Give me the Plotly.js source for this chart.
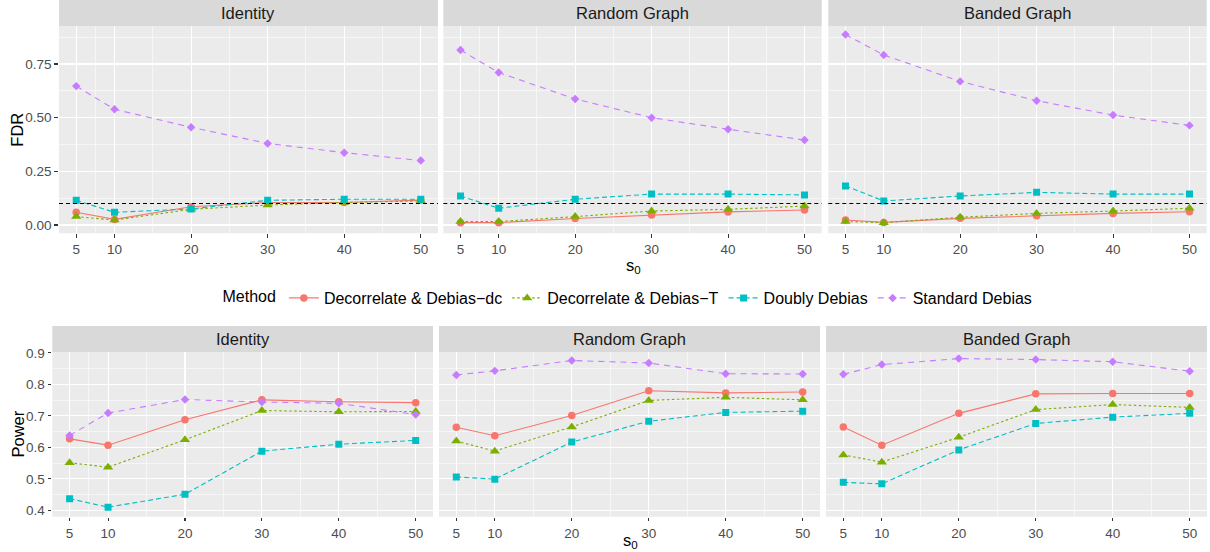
<!DOCTYPE html>
<html>
<head>
<meta charset="utf-8">
<script src="https://cdn.plot.ly/plotly-3.0.1.min.js"></script>
<style>
  html, body { margin: 0; padding: 0; background: #ffffff; }
  #chart { width: 1210px; height: 552px; }
</style>
</head>
<body>
<div id="chart"></div>
<script>
// ---------------- DATA ----------------
const sVals = [5, 10, 20, 30, 40, 50];
const panelNames = ['Identity', 'Random Graph', 'Banded Graph'];
const methodNames = ['Decorrelate & Debias\u2212dc', 'Decorrelate & Debias\u2212T', 'Doubly Debias', 'Standard Debias'];
const fdrLevel = 0.1;

// FDR (top row)
const fdrIdentityDc  = [0.059, 0.026, 0.085, 0.105, 0.105, 0.116];
const fdrIdentityT   = [0.039, 0.023, 0.073, 0.093, 0.105, 0.112];
const fdrIdentityDD  = [0.115, 0.059, 0.075, 0.115, 0.120, 0.120];
const fdrIdentitySD  = [0.647, 0.539, 0.455, 0.380, 0.337, 0.300];

const fdrRandomDc    = [0.011, 0.011, 0.030, 0.047, 0.061, 0.070];
const fdrRandomT     = [0.016, 0.016, 0.039, 0.065, 0.073, 0.088];
const fdrRandomDD    = [0.135, 0.078, 0.120, 0.144, 0.144, 0.140];
const fdrRandomSD    = [0.815, 0.710, 0.587, 0.500, 0.446, 0.396];

const fdrBandedDc    = [0.023, 0.012, 0.031, 0.043, 0.054, 0.062];
const fdrBandedT     = [0.016, 0.011, 0.036, 0.054, 0.065, 0.078];
const fdrBandedDD    = [0.182, 0.112, 0.135, 0.152, 0.144, 0.144];
const fdrBandedSD    = [0.887, 0.792, 0.669, 0.579, 0.512, 0.464];

// Power (bottom row)
const powIdentityDc  = [0.627, 0.607, 0.688, 0.751, 0.745, 0.742];
const powIdentityT   = [0.551, 0.537, 0.624, 0.717, 0.713, 0.714];
const powIdentityDD  = [0.437, 0.410, 0.451, 0.588, 0.610, 0.622];
const powIdentitySD  = [0.638, 0.709, 0.752, 0.744, 0.740, 0.704];

const powRandomDc    = [0.664, 0.637, 0.701, 0.780, 0.773, 0.776];
const powRandomT     = [0.620, 0.588, 0.665, 0.749, 0.759, 0.751];
const powRandomDD    = [0.506, 0.499, 0.617, 0.683, 0.711, 0.715];
const powRandomSD    = [0.830, 0.843, 0.876, 0.868, 0.834, 0.833];

const powBandedDc    = [0.665, 0.607, 0.708, 0.770, 0.771, 0.771];
const powBandedT     = [0.576, 0.553, 0.632, 0.720, 0.736, 0.727];
const powBandedDD    = [0.489, 0.484, 0.592, 0.676, 0.696, 0.708];
const powBandedSD    = [0.832, 0.863, 0.882, 0.879, 0.872, 0.842];

const fdrTickVals = [0, 0.25, 0.5, 0.75];
const fdrTickText = ['0.00', '0.25', '0.50', '0.75'];
const powTickVals = [0.4, 0.5, 0.6, 0.7, 0.8, 0.9];
const powTickText = ['0.4', '0.5', '0.6', '0.7', '0.8', '0.9'];
const sTickText = ['5', '10', '20', '30', '40', '50'];

// ---------------- STYLE ----------------
const FONT = 'Liberation Sans, Arial, Helvetica, sans-serif';
const methodStyle = [
  {color: '#F8766D', dash: 'solid',       symbol: 'circle',      size: 7.5},
  {color: '#7CAE00', dash: '2.5px,2.5px', symbol: 'triangle-up', size: 9},
  {color: '#00BFC4', dash: '5px,3px',     symbol: 'square',      size: 7},
  {color: '#C77CFF', dash: '6px,5px',     symbol: 'diamond',     size: 6.5}
];

const fdrSeries = [
  [fdrIdentityDc, fdrIdentityT, fdrIdentityDD, fdrIdentitySD],
  [fdrRandomDc,   fdrRandomT,   fdrRandomDD,   fdrRandomSD],
  [fdrBandedDc,   fdrBandedT,   fdrBandedDD,   fdrBandedSD]
];
const powSeries = [
  [powIdentityDc, powIdentityT, powIdentityDD, powIdentitySD],
  [powRandomDc,   powRandomT,   powRandomDD,   powRandomSD],
  [powBandedDc,   powBandedT,   powBandedDD,   powBandedSD]
];

const W = 1210, H = 552;
const px = v => v / W;
const py = v => 1 - v / H;

// panel pixel boxes [left, right]
const topX = [[59, 438], [443.3, 821.7], [828.3, 1206.7]];
const botX = [[52.3, 433], [439, 820], [826, 1207]];
const topY = [26, 233.3];   // plot top, bottom (px)
const botY = [352.3, 516.7];
const topStrip = [0, 26];
const botStrip = [326, 352.3];

const traces = [];
const layout = {
  width: W, height: H,
  margin: {l: 0, r: 0, t: 0, b: 0, pad: 0},
  paper_bgcolor: '#ffffff',
  plot_bgcolor: '#EBEBEB',
  font: {family: FONT, color: '#4D4D4D', size: 13.5},
  showlegend: true,
  legend: {
    orientation: 'h',
    x: 629 / W, xanchor: 'center',
    y: py(298), yanchor: 'middle',
    title: {text: 'Method', side: 'left', font: {family: FONT, size: 16, color: '#000000'}},
    font: {family: FONT, size: 16, color: '#000000'},
    itemwidth: 30,
    tracegroupgap: 0,
    bgcolor: 'rgba(0,0,0,0)'
  },
  shapes: [],
  annotations: []
};

function xAxisDef(dom) {
  return {
    domain: dom,
    range: [2.75, 52.25],
    tickmode: 'array', tickvals: sVals, ticktext: sTickText,
    ticks: 'outside', ticklen: 3.7, tickwidth: 1.07, tickcolor: '#333333',
    tickfont: {family: FONT, size: 13.5, color: '#4D4D4D'},
    showgrid: true, gridcolor: '#FFFFFF', gridwidth: 1.07,
    minor: {tickmode: 'array', tickvals: [7.5, 15, 25, 35, 45], showgrid: true, gridcolor: '#FFFFFF', gridwidth: 0.55, ticks: ''},
    zeroline: false, showline: false, fixedrange: true
  };
}
function yAxisDef(dom, range, tv, tt, minorVals, showLabels, anchor) {
  return {
    domain: dom, range: range, anchor: anchor,
    tickmode: 'array', tickvals: tv, ticktext: tt,
    showticklabels: showLabels,
    ticks: showLabels ? 'outside' : '', ticklen: 3.7, tickwidth: 1.07, tickcolor: '#333333',
    tickfont: {family: FONT, size: 13.5, color: '#4D4D4D'},
    showgrid: true, gridcolor: '#FFFFFF', gridwidth: 1.07,
    minor: {tickmode: 'array', tickvals: minorVals, showgrid: true, gridcolor: '#FFFFFF', gridwidth: 0.55, ticks: ''},
    zeroline: false, showline: false, fixedrange: true
  };
}

const fdrRange = [-0.0387, 0.927];
const powRange = [0.3797, 0.902];

for (let p = 0; p < 3; p++) {
  const ti = p + 1, bi = p + 4;
  const tx = ti === 1 ? 'x' : 'x' + ti, ty = ti === 1 ? 'y' : 'y' + ti;
  const bx = 'x' + bi, by = 'y' + bi;
  layout['xaxis' + (ti === 1 ? '' : ti)] = Object.assign(xAxisDef([px(topX[p][0]), px(topX[p][1])]), {anchor: ty});
  layout['yaxis' + (ti === 1 ? '' : ti)] = yAxisDef([py(topY[1]), py(topY[0])], fdrRange, fdrTickVals, fdrTickText,
    [0.125, 0.375, 0.625, 0.875], p === 0, tx);
  layout['xaxis' + bi] = Object.assign(xAxisDef([px(botX[p][0]), px(botX[p][1])]), {anchor: by});
  layout['yaxis' + bi] = yAxisDef([py(botY[1]), py(botY[0])], powRange, powTickVals, powTickText,
    [0.45, 0.55, 0.65, 0.75, 0.85], p === 0, bx);

  // strips
  layout.shapes.push({type: 'rect', xref: 'paper', yref: 'paper', layer: 'below',
    x0: px(topX[p][0]), x1: px(topX[p][1]), y0: py(topStrip[1]), y1: py(topStrip[0]),
    fillcolor: '#D9D9D9', line: {width: 0}});
  layout.shapes.push({type: 'rect', xref: 'paper', yref: 'paper', layer: 'below',
    x0: px(botX[p][0]), x1: px(botX[p][1]), y0: py(botStrip[1]), y1: py(botStrip[0]),
    fillcolor: '#D9D9D9', line: {width: 0}});
  layout.annotations.push({text: panelNames[p], xref: 'paper', yref: 'paper', showarrow: false,
    x: px((topX[p][0] + topX[p][1]) / 2), y: py((topStrip[0] + topStrip[1]) / 2), xanchor: 'center', yanchor: 'middle',
    font: {family: FONT, size: 16.5, color: '#1A1A1A'}});
  layout.annotations.push({text: panelNames[p], xref: 'paper', yref: 'paper', showarrow: false,
    x: px((botX[p][0] + botX[p][1]) / 2), y: py((botStrip[0] + botStrip[1]) / 2), xanchor: 'center', yanchor: 'middle',
    font: {family: FONT, size: 16.5, color: '#1A1A1A'}});

  // FDR reference line
  layout.shapes.push({type: 'line', xref: tx + ' domain', yref: ty, x0: 0, x1: 1, y0: fdrLevel, y1: fdrLevel,
    line: {color: '#000000', width: 1.1, dash: '4px,3px'}});

  for (let m = 0; m < 4; m++) {
    const st = methodStyle[m];
    traces.push({
      type: 'scatter', mode: 'lines+markers', x: sVals, y: fdrSeries[p][m],
      xaxis: tx, yaxis: ty, name: methodNames[m], legendgroup: methodNames[m],
      showlegend: p === 0,
      line: {color: st.color, width: 1.1, dash: st.dash},
      marker: {color: st.color, symbol: st.symbol, size: st.size, line: {width: 0}},
      hoverinfo: 'skip'
    });
    traces.push({
      type: 'scatter', mode: 'lines+markers', x: sVals, y: powSeries[p][m],
      xaxis: bx, yaxis: by, name: methodNames[m], legendgroup: methodNames[m],
      showlegend: false,
      line: {color: st.color, width: 1.1, dash: st.dash},
      marker: {color: st.color, symbol: st.symbol, size: st.size, line: {width: 0}},
      hoverinfo: 'skip'
    });
  }
}

// axis titles
layout.annotations.push({text: 'FDR', xref: 'paper', yref: 'paper', showarrow: false, textangle: -90,
  x: px(17), y: py((topY[0] + topY[1]) / 2), xanchor: 'center', yanchor: 'middle',
  font: {family: FONT, size: 16.5, color: '#000000'}});
layout.annotations.push({text: 'Power', xref: 'paper', yref: 'paper', showarrow: false, textangle: -90,
  x: px(17), y: py((botY[0] + botY[1]) / 2), xanchor: 'center', yanchor: 'middle',
  font: {family: FONT, size: 16.5, color: '#000000'}});
layout.annotations.push({text: 's<sub>0</sub>', xref: 'paper', yref: 'paper', showarrow: false,
  x: px(633), y: py(266), xanchor: 'center', yanchor: 'middle',
  font: {family: FONT, size: 16.5, color: '#000000'}});
layout.annotations.push({text: 's<sub>0</sub>', xref: 'paper', yref: 'paper', showarrow: false,
  x: px(630), y: py(541), xanchor: 'center', yanchor: 'middle',
  font: {family: FONT, size: 16.5, color: '#000000'}});

Plotly.newPlot('chart', traces, layout, {displayModeBar: false, staticPlot: true});
</script>
</body>
</html>
